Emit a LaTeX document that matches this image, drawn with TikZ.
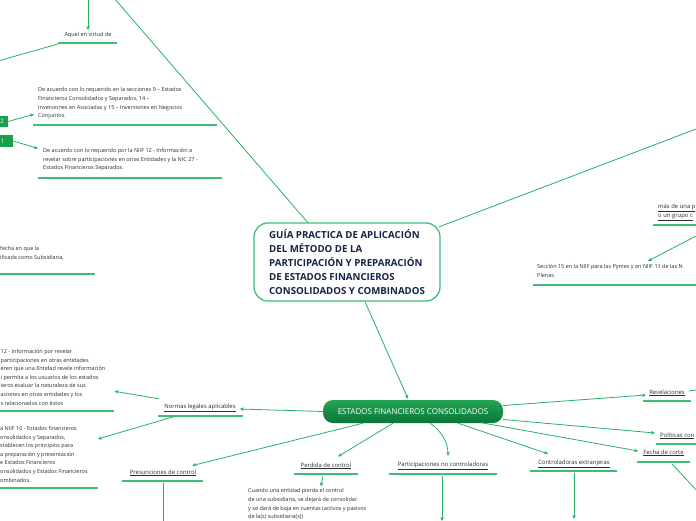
\documentclass[tikz,border=0pt]{standalone}
\usepackage{fontspec}
\setmainfont{Open Sans}
\usetikzlibrary{arrows.meta}
\definecolor{lg}{RGB}{38,178,100}
\definecolor{ul}{RGB}{62,190,120}
\definecolor{bx}{RGB}{26,160,74}
\definecolor{txt}{RGB}{45,45,45}
\definecolor{navy}{RGB}{22,35,70}
\definecolor{eg1}{RGB}{34,165,84}
\definecolor{eg2}{RGB}{10,118,55}
\tikzset{
  conn/.style={draw=lg, line width=0.8pt, -{Stealth[length=4pt,width=3.6pt]}},
  plainc/.style={draw=lg, line width=0.8pt},
  uline/.style={draw=ul, line width=1.6pt},
  small/.style={font=\fontsize{5.5}{8.6}\selectfont, text=txt, inner sep=0pt, align=left, anchor=north west},
  lab/.style={font=\fontsize{5.9}{7}\selectfont, text=txt, inner sep=0pt},
  numbox/.style={fill=bx, text=white, font=\fontsize{6}{7}\selectfont, inner sep=0pt, minimum height=11.5pt},
}
\begin{document}
\begin{tikzpicture}[x=1pt,y=-1pt]
\useasboundingbox (0,0) rectangle (696,520);
\fill[white] (0,0) rectangle (696,520);

% ---- central node
\node[draw=ul, line width=1.3pt, rounded corners=14pt, minimum width=186pt, minimum height=78pt, inner sep=0pt] (central) at (347,262) {};
\node[font=\fontsize{9.7}{14}\selectfont\bfseries, text=navy, align=left, anchor=north west, inner sep=0pt] (title) at (269,229.5)
  {GUÍA PRACTICA DE APLICACIÓN\\DEL MÉTODO DE LA\\PARTICIPACIÓN Y PREPARACIÓN\\DE ESTADOS FINANCIEROS\\CONSOLIDADOS Y COMBINADOS};

% ---- main green node
\node[rounded corners=10pt, top color=eg1, bottom color=eg2, minimum width=180pt, minimum height=23pt, inner sep=0pt,
      text=white, font=\fontsize{8}{9}\selectfont] (estados) at (413,411.5) {ESTADOS FINANCIEROS CONSOLIDADOS};

% ---- top left
\coordinate (ttop) at (88,-2);
\node[lab, font=\fontsize{5.5}{7}\selectfont] (aquel) at (88,35) {Aquel en virtud de};
\draw[uline] (58,43) -- (117,43);
\draw[conn] (ttop) -- ([yshift=2pt]aquel.north);
\coordinate (aqL) at (-2,61);
\draw[plainc] (58,44) -- (aqL);

% diagonal from top to central
\coordinate (dtop) at (114,-2);
\draw[plainc] (dtop) -- ([xshift=-39pt,yshift=-0.5pt]central.north);
% top-right line
\coordinate (trR) at (700,127.5);
\draw[plainc] ([xshift=-2pt,yshift=35pt]central.east) -- (trR);

% numbered boxes
\node[numbox, minimum width=12pt] (b2) at (2,121.5) {2};
\node[numbox, minimum width=21pt] (b1) at (2.5,141) {1};

\node[small] (txA) at (38,87.5) {De acuerdo con lo requerido en la secciones 9 – Estados\\Financieros Consolidados y Separados, 14 –\\Inversiones en Asociadas y 15 – Inversiones en Negocios\\Conjuntos.};
\draw[uline] (33,125) -- (217,125);
\node[small] (txB) at (43,148) {De acuerdo con lo requerido por la NIIF 12 - Información a\\revelar sobre participaciones en otras Entidades y la NIC 27 -\\Estados Financieros Separados.};
\draw[uline] (38,178) -- (222,178);
\draw[conn] (b2.east) -- ([xshift=-4pt,yshift=5pt]txA.south west);
\draw[conn] (b1.east) -- ([xshift=-5pt,yshift=-0.5pt]txB.north west);

% left middle
\node[small] (txC) at (0,246) {fecha en que la\\ificada como Subsidiaria,};
\draw[uline] (0,274) -- (95,274);

% left lower blocks
\node[small] (txD) at (0.5,349) {12 - Información por revelar\\participaciones en otras entidades\\eren que una Entidad revele información\\i permita a los usuarios de los estados\\ieros evaluar la naturaleza de sus\\aciones en otras entidades y los\\s relacionados con éstos};
\draw[uline] (0,411) -- (114,411);
\node[small] (txE) at (0,426) {a NIIF 10 - Estados financieros\\onsolidados y Separados,\\stablecen los principios para\\a preparación y presentación\\e Estados Financieros\\onsolidados y Estados Financieros\\ombinados.};
\draw[uline] (0,488) -- (98,488);

% labels
\node[lab] (normas) at (200,408) {\underline{Normas legales aplicables}};
\draw[uline] (158,416) -- (243,416);
\node[lab] (presun) at (163,473) {\underline{Presunciones de control}};
\draw[uline] (122,481) -- (203,481);
\node[lab] (perdida) at (326,466) {\underline{Perdida de control}};
\draw[uline] (294,474) -- (358,474);
\node[lab] (partic) at (443,466) {\underline{Participaciones no controladoras}};
\draw[uline] (389,474) -- (497,474);
\node[lab] (contro) at (574,464) {\underline{Controladoras extranjeras}};
\draw[uline] (530,471) -- (617,471);
\node[lab] (fecha) at (663.5,453) {\underline{Fecha de corte}};
\draw[uline] (637,462) -- (690,462);
\node[lab] (revel) at (667,393) {\underline{Revelaciones}};
\draw[uline] (643,401) -- (691,401);
\node[lab, anchor=west] (polit) at (660,436) {\underline{Políticas con}};
\draw[uline] (656,444) -- (698,444);
\node[lab, align=left, anchor=north west, font=\fontsize{5.9}{9}\selectfont] (masde) at (658,204) {\underline{más de una p}\\\underline{o un grupo c}};
\draw[uline] (653,225) -- (698,225);

\node[small] (txF) at (537,264.5) {Sección 15 en la NIIF para las Pymes y en NIIF 11 de las N\\Plenas.};
\draw[uline] (533,285) -- (698,285);
\coordinate (mR) at (700,234);
\draw[conn] (mR) -- ([xshift=111pt,yshift=3.5pt]txF.north west);

% perdida text
\node[small] (txG) at (248,488.5) {Cuando una entidad pierda el control\\de una subsidiaria, se dejará de consolidar\\ y se dará de baja en cuentas (activos y pasivos\\de la(s) subsidiaria(s))};

% central -> estados
\draw[conn] ([xshift=18pt]central.south) -- ([xshift=-5pt,yshift=1pt]estados.north);

% estados connectors
\draw[conn] (estados.west) -- ([xshift=4pt,yshift=-1pt]normas.east);
\draw[conn] ([xshift=-50pt]estados.south) -- ([xshift=-4pt,yshift=4pt]presun.north east);
\draw[conn] ([xshift=-20pt]estados.south) -- ([xshift=12pt,yshift=6pt]perdida.north);
\draw[conn] ([xshift=17pt]estados.south) .. controls (443,432) and (448,444) .. ([xshift=5pt,yshift=6pt]partic.north);
\draw[conn] ([xshift=45pt]estados.south) -- ([xshift=-26pt,yshift=6pt]contro.north);
\draw[conn] ([xshift=-22pt,yshift=0.5pt]estados.south east) -- ([xshift=-5pt,yshift=2pt]fecha.west);
\draw[conn] ([xshift=0pt,yshift=-8pt]estados.east) -- ([xshift=-5pt,yshift=3pt]polit.west);
\draw[conn] ([xshift=0pt,yshift=6pt]estados.east) -- ([xshift=-3pt,yshift=-2pt]revel.west);

\coordinate (rvR) at (700,389.5);
\draw[plainc] ([xshift=4pt,yshift=2pt]revel.east) -- (rvR);
\coordinate (fcR) at (700,494);
\draw[plainc] (672,464) -- (fcR);

\coordinate (coB) at (574,519);
\draw[conn] (574,473) -- (coB);
\coordinate (paB) at (442,521);
\draw[conn] (442,476) -- (paB);
\draw[conn] (323,476) -- ([xshift=73pt,yshift=2pt]txG.north west);
\coordinate (prB) at (163,524);
\draw[plainc] (163,483) -- (prB);
\draw[conn] ([xshift=-5pt,yshift=5pt]normas.north west) -- ([xshift=114pt,yshift=14pt]txD.south west);
\draw[conn] (176,416) -- ([xshift=98pt,yshift=-13pt]txE.north west);
\end{tikzpicture}
\end{document}
